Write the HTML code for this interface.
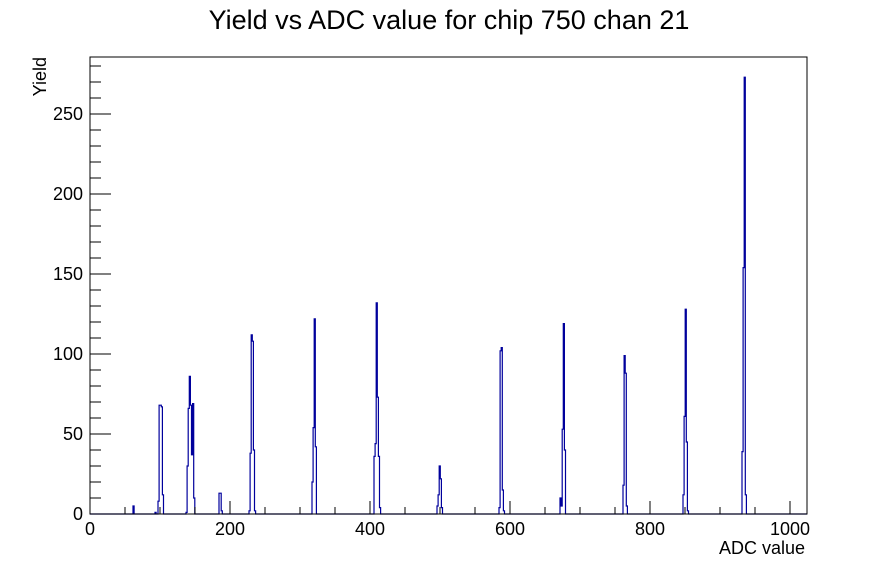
<!DOCTYPE html>
<html><head><style>
html,body{margin:0;padding:0;background:#fff;}
svg{display:block;font-family:"Liberation Sans",Arial,sans-serif;}
</style></head><body>
<svg id="s" width="896" height="572" viewBox="0 0 896 572" xmlns="http://www.w3.org/2000/svg">
<rect width="896" height="572" fill="#fff"/>
<text x="449" y="29" font-size="27" text-anchor="middle">Yield vs ADC value for chip 750 chan 21</text>
<path id="h" fill="none" stroke="#00009c" stroke-width="1.2"/>
<rect x="90" y="57" width="717" height="457" fill="none" stroke="#000" stroke-width="1"/>
<g id="ticks" stroke="#000" stroke-width="1"></g>
<g font-size="18" text-anchor="middle">
<text x="90" y="535">0</text><text x="230" y="535">200</text><text x="370" y="535">400</text>
<text x="510" y="535">600</text><text x="650" y="535">800</text><text x="790" y="535">1000</text>
</g>
<g font-size="18" text-anchor="end">
<text x="83" y="520">0</text><text x="83" y="440">50</text><text x="83" y="360">100</text>
<text x="83" y="280">150</text><text x="83" y="200">200</text><text x="83" y="120">250</text>
</g>
<text x="805" y="554" font-size="18" text-anchor="end">ADC value</text>
<text transform="translate(46,57) rotate(-90)" font-size="18" text-anchor="end">Yield</text>
</svg>
<script>
var t='';
for(var v=0;v<=1000;v+=50){var x=90+0.7*v;var L=(v%200==0)?13:7;t+='<line x1="'+x+'" y1="514" x2="'+x+'" y2="'+(514-L)+'"/>';}
for(var y=0;y<=280;y+=10){var py=514-1.6*y;var L=(y%50==0)?21:11;t+='<line x1="90" y1="'+py+'" x2="'+(90+L)+'" y2="'+py+'"/>';}
document.getElementById('ticks').innerHTML=t;
var peaks=[
[133,[5]],[155,[1]],
[158,[8,68,68,67,12]],
[186,[1,30,66,86,68,37,69,10]],
[219,[13,13,2]],
[249,[2,38,112,108,40,2]],
[312,[20,54,122,42]],
[374,[36,44,132,73,36,4]],
[437,[5,12,30,22,4]],
[499,[4,102,104,15,2]],
[560,[10,5,53,119,40]],
[623,[18,99,88,5]],
[683,[12,61,128,45,2]],
[742,[39,154,273,12]]
];
var d='M90 514';
peaks.forEach(function(p){var x=p[0];d+=' H'+x;p[1].forEach(function(h){d+=' V'+(514-1.6*h)+' H'+(x+=1.1);});d+=' V514';});
d+=' H807';
document.getElementById('h').setAttribute('d',d);
</script>
</body></html>
